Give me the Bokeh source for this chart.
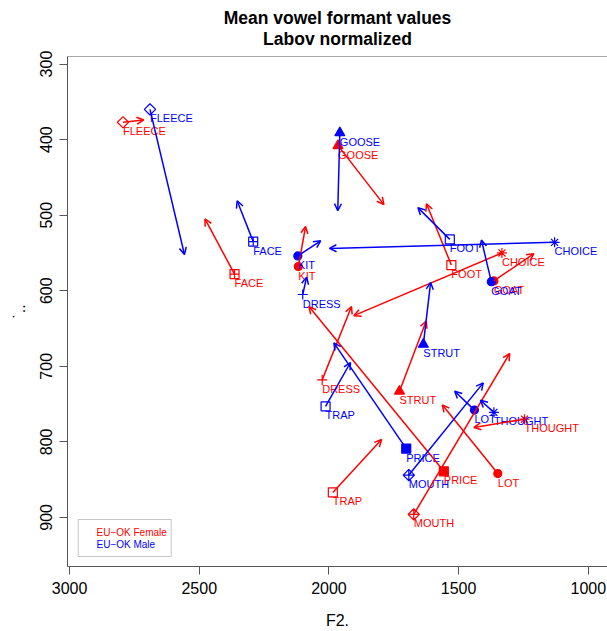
import math

from bokeh.plotting import figure
from bokeh.models import (ColumnDataSource, Range1d, FixedTicker, Arrow, OpenHead,
                          BoxAnnotation, Label, Span, Title)
from bokeh.core.properties import value
from bokeh.embed import file_html
from bokeh.resources import INLINE

# Mean formant values (Labov normalized), nucleus and glide, per speaker group
vowels = ["FLEECE", "KIT", "FACE", "DRESS", "TRAP", "LOT", "THOUGHT",
          "STRUT", "GOAT", "FOOT", "GOOSE", "PRICE", "CHOICE", "MOUTH"]

female_f2 = [2794, 2118, 2364, 2026, 1985, 1349, 1246, 1728, 1364, 1528, 1965, 1557, 1333, 1673]
female_f1 = [377, 568, 578, 718, 867, 842, 770, 733, 587, 566, 408, 839, 550, 896]
female_f2_glide = [2714, 2090, 2478, 1913, 1797, 1563, 1441, 1625, 1210, 1624, 1788, 2077, 1904, 1303]
female_f1_glide = [374, 515, 505, 621, 797, 751, 781, 640, 551, 485, 486, 621, 633, 683]

male_f2 = [2690, 2120, 2292, 2101, 2013, 1439, 1364, 1636, 1374, 1534, 1958, 1702, 1130, 1692]
male_f1 = [360, 554, 535, 605, 753, 758, 761, 671, 588, 532, 391, 809, 536, 844]
male_f2_glide = [2557, 2032, 2354, 2086, 1917, 1515, 1416, 1608, 1412, 1657, 1966, 1981, 1998, 1405]
male_f1_glide = [552, 534, 481, 582, 695, 733, 745, 589, 533, 490, 494, 669, 544, 722]

groups = ["EU\u2212OK Female", "EU\u2212OK Male"]
title_lines = ["Mean vowel formant values", "Labov normalized"]
f2_ticks = [3000, 2500, 2000, 1500, 1000]
f1_ticks = [300, 400, 500, 600, 700, 800, 900]

# plotting symbol per vowel (hollow unless marked filled); diamonds are squares turned 45 degrees
vowel_marker = ["square", "circle", "square_cross", "cross", "square", "circle", "asterisk",
                "triangle", "circle", "square", "triangle", "square", "asterisk", "square_x"]
vowel_angle = [45, 0, 0, 0, 0, 0, 0, 0, 0, 0, 0, 0, 0, 45]
vowel_filled = [False, True, False, False, False, True, False,
                True, True, False, True, True, False, False]
vowel_size = [8, 8, 9, 10, 9, 8, 10, 10, 8, 9, 10, 9, 10, 8]

FONT = "Liberation Sans"
AXIS_GREY = "#555555"

p = figure(width=607, height=631, output_backend="svg", toolbar_location=None,
           x_range=Range1d(3008, 926), y_range=Range1d(965, 290),
           min_border_left=67, min_border_right=0, min_border_top=56, min_border_bottom=60,
           title=title_lines[0])
p.outline_line_color = None
p.background_fill_color = "white"
p.border_fill_color = "white"
p.grid.visible = False

# first title line sits on top; the second line is stacked between it and the plot
p.title.text_font = FONT
p.title.text_font_size = "17.5px"
p.title.text_font_style = "bold"
p.title.text_color = "black"
p.title.align = "center"
p.title.standoff = -18
p.add_layout(Title(text=title_lines[1], text_font=FONT, text_font_size="17.5px",
                   text_font_style="bold", text_color="black", align="center",
                   standoff=16), "above")

for ax in (p.xaxis[0], p.yaxis[0]):
    ax.axis_line_color = AXIS_GREY
    ax.major_tick_line_color = AXIS_GREY
    ax.minor_tick_line_color = None
    ax.major_tick_out = 8
    ax.major_tick_in = 0
    ax.major_label_text_font = FONT
    ax.major_label_text_font_size = "16px"
    ax.major_label_text_color = "black"
    ax.major_label_standoff = 7
    ax.axis_label_text_font = FONT
    ax.axis_label_text_font_size = "16px"
    ax.axis_label_text_font_style = "normal"
    ax.axis_label_text_color = "black"

p.xaxis.ticker = FixedTicker(ticks=f2_ticks)
p.yaxis.ticker = FixedTicker(ticks=f1_ticks)
p.xaxis.axis_label = "F2."
p.xaxis.axis_label_standoff = 15
p.yaxis.axis_label = "\u02d9.."
p.yaxis.axis_label_standoff = 10
p.yaxis.major_label_orientation = "vertical"

# top edge of the plotting box
p.add_layout(Span(location=p.y_range.end, dimension="width", line_color=AXIS_GREY, line_width=1))


def draw_group(f2, f1, f2g, f1g, color):
    src = ColumnDataSource(dict(
        vowel=vowels, f2=f2, f1=f1, f2g=f2g, f1g=f1g,
        marker=vowel_marker, size=vowel_size,
        angle=[math.radians(a) for a in vowel_angle],
        fill_alpha=[1.0 if f else 0.0 for f in vowel_filled],
    ))
    p.add_layout(Arrow(source=src, x_start="f2", y_start="f1", x_end="f2g", y_end="f1g",
                       line_color=color, line_width=1.5,
                       end=OpenHead(size=7, line_color=color, line_width=1.5)))
    p.scatter(x="f2", y="f1", source=src, marker="marker", size="size", angle="angle",
              line_color=color, fill_color=color, fill_alpha="fill_alpha", line_width=1.2)
    p.text(x="f2", y="f1", text="vowel", source=src, text_color=color,
           text_font=value(FONT), text_font_size="11px", text_align="left",
           text_baseline="middle", y_offset=9)


draw_group(female_f2, female_f1, female_f2_glide, female_f1_glide, "red")
draw_group(male_f2, male_f1, male_f2_glide, male_f1_glide, "blue")

# legend box in the lower left corner of the plotting area
p.add_layout(BoxAnnotation(left=10.7, right=103.7, bottom=10, top=47,
                           left_units="screen", right_units="screen",
                           top_units="screen", bottom_units="screen",
                           fill_color=None, line_color="#444444", line_width=1))
for label_text, color, ypos in zip(groups, ["red", "blue"], [34.3, 22]):
    p.add_layout(Label(x=29, y=ypos, x_units="screen", y_units="screen", text=label_text,
                       text_color=color, text_font=FONT, text_font_size="10px",
                       text_baseline="middle"))

open("out.html", "w").write(file_html(p, INLINE))
